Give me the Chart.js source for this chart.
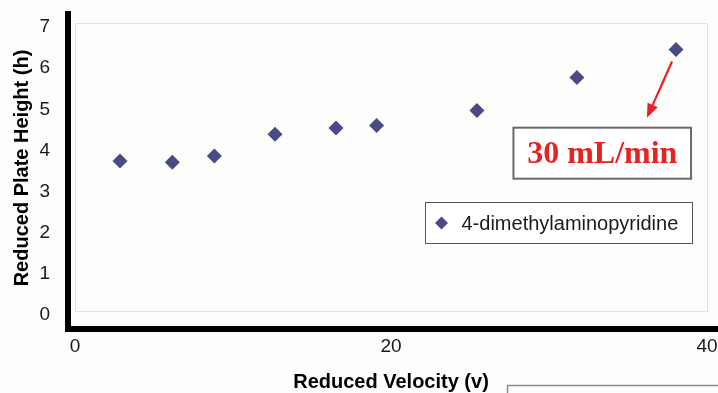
<!DOCTYPE html>
<html>
<head>
<meta charset="utf-8">
<script src="https://cdn.jsdelivr.net/npm/chart.js@4/dist/chart.umd.min.js"></script>
<style>
  html, body { margin: 0; padding: 0; background: #fdfdfc; }
  #wrap { width: 718px; height: 393px; position: relative; }
</style>
</head>
<body>
<div id="wrap"><canvas id="c" width="718" height="393"></canvas></div>
<script>
// Reduced velocity (v) vs reduced plate height (h)
const seriesName = '4-dimethylaminopyridine';
const reducedVelocity = [2.85, 6.16, 8.82, 12.66, 16.52, 19.09, 25.44, 31.77, 38.04];
const reducedPlateHeight = [3.67, 3.64, 3.79, 4.32, 4.47, 4.53, 4.90, 5.70, 6.38];
const xTicks = [0, 20, 40];
const yTicks = [0, 1, 2, 3, 4, 5, 6, 7];
const flowLabel = '30 mL/min';

const markerColor = '#4a4a86';
const red = '#e62222';

const points = reducedVelocity.map((v, i) => ({ x: v, y: reducedPlateHeight[i] }));

// Frame, heavy axis bars, callout arrow + box, legend box
const decorations = {
  id: 'decorations',
  beforeDatasetsDraw(chart) {
    const { ctx, chartArea: a } = chart;
    ctx.save();
    ctx.strokeStyle = '#e2e2e2';
    ctx.lineWidth = 1;
    ctx.strokeRect(a.left + 0.5, a.top - 0.5, a.right - a.left, a.bottom - a.top);
    ctx.fillStyle = '#000';
    ctx.fillRect(a.left - 10, a.top - 13, 6, a.bottom - a.top + 33);
    ctx.fillRect(a.left - 10, a.bottom + 14, chart.width - (a.left - 10), 6);
    ctx.restore();
  },
  afterDraw(chart) {
    const { ctx, scales: { x, y } } = chart;
    ctx.save();

    // arrow pointing from the last point down to the flow-rate callout
    const n = reducedVelocity.length - 1;
    const sx = x.getPixelForValue(reducedVelocity[n]) - 4;
    const sy = y.getPixelForValue(reducedPlateHeight[n]) + 12;
    const ex = x.getPixelForValue(36.2);
    const ey = y.getPixelForValue(4.72);
    const ang = Math.atan2(ey - sy, ex - sx);
    const head = 15;
    ctx.strokeStyle = red;
    ctx.fillStyle = red;
    ctx.lineWidth = 2.2;
    ctx.beginPath();
    ctx.moveTo(sx, sy);
    ctx.lineTo(ex - Math.cos(ang) * head * 0.8, ey - Math.sin(ang) * head * 0.8);
    ctx.stroke();
    ctx.beginPath();
    ctx.moveTo(ex, ey);
    ctx.lineTo(ex - head * Math.cos(ang - 0.38), ey - head * Math.sin(ang - 0.38));
    ctx.lineTo(ex - head * Math.cos(ang + 0.38), ey - head * Math.sin(ang + 0.38));
    ctx.closePath();
    ctx.fill();

    // callout box
    const bx0 = x.getPixelForValue(27.75), bx1 = x.getPixelForValue(38.99);
    const by0 = y.getPixelForValue(4.48), by1 = y.getPixelForValue(3.24);
    ctx.fillStyle = '#ffffff';
    ctx.fillRect(bx0, by0, bx1 - bx0, by1 - by0);
    ctx.strokeStyle = '#6a6a6a';
    ctx.lineWidth = 2;
    ctx.strokeRect(bx0, by0, bx1 - bx0, by1 - by0);
    ctx.fillStyle = red;
    ctx.font = 'bold 32px "Liberation Serif", "Times New Roman", serif';
    ctx.textAlign = 'center';
    ctx.textBaseline = 'middle';
    ctx.fillText(flowLabel, (bx0 + bx1) / 2, (by0 + by1) / 2 + 2);

    // legend
    const lx0 = 425.5, ly0 = 202.5, lw = 267, lh = 41;
    ctx.fillStyle = '#ffffff';
    ctx.fillRect(lx0, ly0, lw, lh);
    ctx.strokeStyle = '#555';
    ctx.lineWidth = 1;
    ctx.strokeRect(lx0, ly0, lw, lh);
    const ds = chart.data.datasets[0];
    const mx = lx0 + 16, my = ly0 + lh / 2;
    const r = 6.5;
    ctx.fillStyle = ds.backgroundColor;
    ctx.beginPath();
    ctx.moveTo(mx, my - r);
    ctx.lineTo(mx + r, my);
    ctx.lineTo(mx, my + r);
    ctx.lineTo(mx - r, my);
    ctx.closePath();
    ctx.fill();
    ctx.fillStyle = '#1a1a1a';
    ctx.font = '20px "Liberation Sans", Arial, sans-serif';
    ctx.textAlign = 'left';
    ctx.fillText(ds.label, lx0 + 36, my + 1);

    // empty box at the lower right
    ctx.strokeStyle = '#8a8a8a';
    ctx.lineWidth = 1.5;
    ctx.strokeRect(507.5, 385.5, 300, 40);
    ctx.restore();
  }
};

new Chart(document.getElementById('c'), {
  type: 'scatter',
  data: {
    datasets: [{
      label: seriesName,
      data: points,
      pointStyle: 'rectRot',
      pointRadius: 7.5,
      pointHoverRadius: 7.5,
      backgroundColor: markerColor,
      borderColor: markerColor,
      borderWidth: 0
    }]
  },
  options: {
    responsive: false,
    animation: false,
    events: [],
    layout: { padding: { top: 24, right: 11, left: 0, bottom: 0 } },
    plugins: { legend: { display: false }, tooltip: { enabled: false } },
    scales: {
      x: {
        type: 'linear',
        min: 0, max: 40,
        afterBuildTicks(s) { s.ticks = xTicks.map(v => ({ value: v })); },
        afterFit(s) { s.height = 81; s.paddingLeft = 0; s.paddingRight = 0; },
        grid: { display: false },
        border: { display: false },
        ticks: {
          padding: 15,
          color: '#1a1a1a',
          maxRotation: 0,
          font: { family: '"Liberation Sans", Arial, sans-serif', size: 19 }
        },
        title: {
          display: true,
          text: 'Reduced Velocity (v)',
          color: '#000',
          padding: { top: 0, bottom: 0 },
          font: { family: '"Liberation Sans", Arial, sans-serif', size: 20, weight: 'bold', lineHeight: 1.05 }
        }
      },
      y: {
        type: 'linear',
        min: 0, max: 7,
        afterBuildTicks(s) { s.ticks = yTicks.map(v => ({ value: v })); },
        afterFit(s) { s.width = 75; s.paddingTop = 0; s.paddingBottom = 0; },
        grid: { display: false },
        border: { display: false },
        ticks: {
          padding: 17,
          labelOffset: 3,
          color: '#1a1a1a',
          font: { family: '"Liberation Sans", Arial, sans-serif', size: 19 }
        },
        title: {
          display: true,
          text: 'Reduced Plate Height (h)',
          color: '#000',
          padding: { top: 10, bottom: 0 },
          font: { family: '"Liberation Sans", Arial, sans-serif', size: 20, weight: 'bold', lineHeight: 1.2 }
        }
      }
    }
  },
  plugins: [decorations]
});
</script>
</body>
</html>
